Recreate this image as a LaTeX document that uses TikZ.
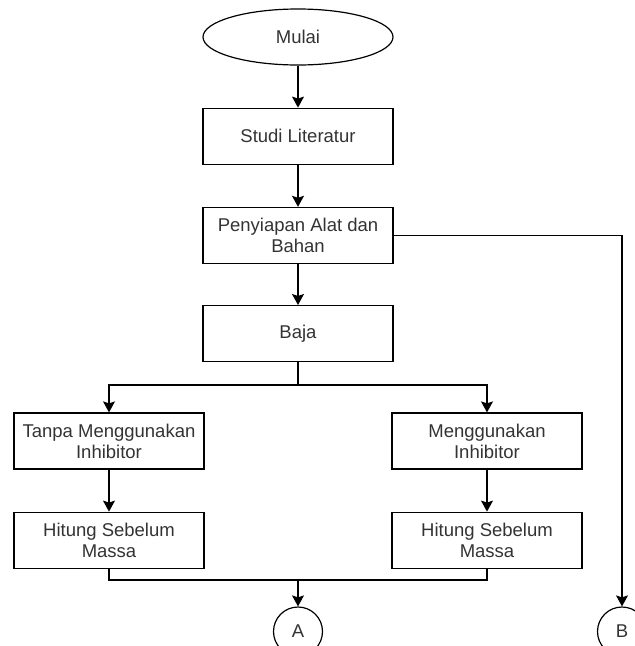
\documentclass[tikz,border=0pt]{standalone}
\usepackage{fontspec}
\setmainfont{Liberation Sans}
\usetikzlibrary{shapes.geometric, positioning, arrows.meta}

\tikzset{
  proses/.style={draw, minimum width=190pt, minimum height=56pt, align=center},
  konektor/.style={draw, circle, minimum size=49pt, inner sep=0pt},
  panah/.style={-{Stealth[length=11pt, width=12pt, inset=2pt]}}
}

\begin{document}
\begin{tikzpicture}[x=1pt, y=1pt, line width=1.2pt, font=\fontsize{18.5}{21}\selectfont, text=black!80, node distance=42pt]
			\useasboundingbox (0,0) rectangle (635,-646);
			\clip (0,0) rectangle (635,-646);
			\node[draw, ellipse, minimum width=190pt, minimum height=56pt] (mulai) at (298,-37) {Mulai};
			\node[proses, below=of mulai] (studi) {Studi Literatur};
			\node[proses, below=of studi] (siap) {Penyiapan Alat dan\\Bahan};
			\node[proses, below=41pt of siap] (baja) {Baja};
			\node[proses] (tanpa) at (109,-441) {Tanpa Menggunakan\\Inhibitor};
			\node[proses] (pakai) at (487,-441) {Menggunakan\\Inhibitor};
			\node[proses, below=of tanpa] (hitung1) {Hitung Sebelum\\Massa};
			\node[proses, below=of pakai] (hitung2) {Hitung Sebelum\\Massa};
			\node[konektor] (A) at (298,-631.5) {A};
			\node[konektor] (B) at (622,-631.5) {B};
			\coordinate (cabang) at (298,-385);
			\coordinate (gabung) at (298,-580);
			\draw[panah] (mulai) -- (studi);
			\draw[panah] (studi) -- (siap);
			\draw[panah] (siap) -- (baja);
			\draw[panah] (siap.east) -| (B);
			\draw (baja) -- (cabang);
			\draw[panah] (cabang) -| (tanpa);
			\draw[panah] (cabang) -| (pakai);
			\draw[panah] (tanpa) -- (hitung1);
			\draw[panah] (pakai) -- (hitung2);
			\draw (hitung1) |- (gabung);
			\draw (hitung2) |- (gabung);
			\draw[panah] (gabung) -- (A);
		\end{tikzpicture}
\end{document}
